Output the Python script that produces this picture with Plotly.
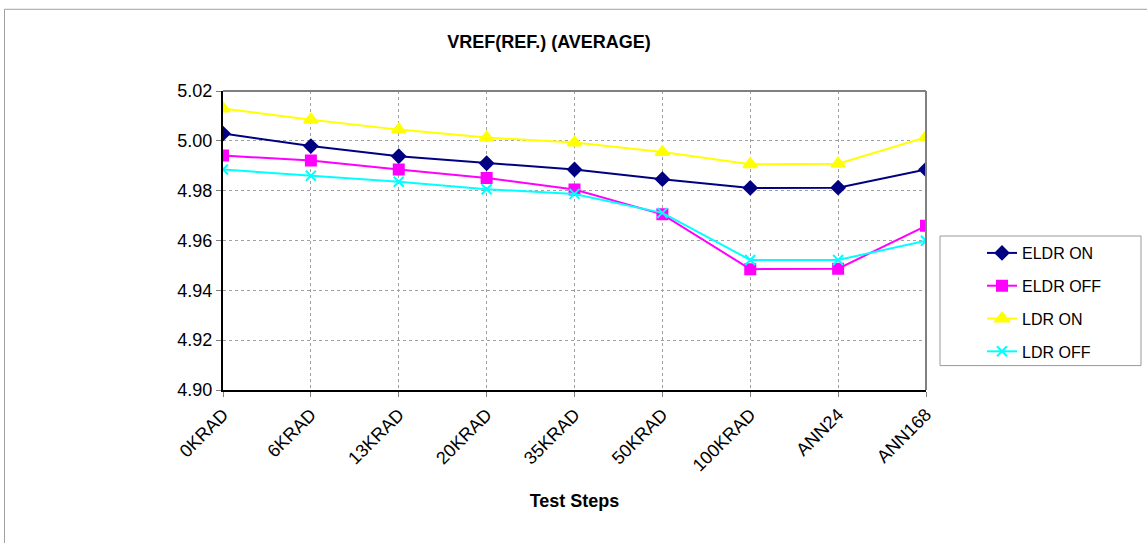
import plotly.graph_objects as go

categories = ["0KRAD", "6KRAD", "13KRAD", "20KRAD", "35KRAD", "50KRAD", "100KRAD", "ANN24", "ANN168"]
eldr_on = [5.0029, 4.9979, 4.9938, 4.9910, 4.9885, 4.9846, 4.9811, 4.9812, 4.9885]
eldr_off = [4.9941, 4.9921, 4.9885, 4.9851, 4.9805, 4.9705, 4.9485, 4.9487, 4.9659]
ldr_on = [5.0130, 5.0085, 5.0045, 5.0013, 4.9993, 4.9955, 4.9906, 4.9908, 5.0015]
ldr_off = [4.9885, 4.9860, 4.9836, 4.9806, 4.9787, 4.9711, 4.9522, 4.9522, 4.9599]
y_ticks = [4.90, 4.92, 4.94, 4.96, 4.98, 5.00, 5.02]

series = [
    ("ELDR ON", eldr_on, "#000080", "diamond", 10),
    ("ELDR OFF", eldr_off, "#FF00FF", "square", 10),
    ("LDR ON", ldr_on, "#FFFF00", "triangle-up", 12),
    ("LDR OFF", ldr_off, "#00FFFF", "x-thin-open", 10),
]

fig = go.Figure()
for name, vals, color, sym, size in series:
    fig.add_trace(go.Scatter(
        x=categories, y=vals, name=name, mode="lines+markers",
        legendgroup=name,
        line=dict(color=color, width=2),
        marker=dict(symbol=sym, size=size, color=color,
                    line=dict(color=color, width=2)),
    ))

W, H = 1147, 543
L, R, T, B = 223, 926, 90.5, 390.5
pw, ph = R - L, B - T
def px(x): return (x - L) / pw
def py(y): return (B - y) / ph

fig.update_layout(
    width=W, height=H,
    margin=dict(l=L, r=W - R, t=T, b=H - B, pad=0, autoexpand=False),
    paper_bgcolor="white", plot_bgcolor="white",
    font=dict(family="Arial, Liberation Sans, sans-serif", color="black"),
    title=dict(text="<b>VREF(REF.) (AVERAGE)</b>", x=(549) / W, xanchor="center",
               y=1 - 42 / H, yanchor="middle", font=dict(size=18)),
    showlegend=True,
    legend=dict(x=px(982), y=py(236), xanchor="left", yanchor="top",
                borderwidth=0, bgcolor="rgba(0,0,0,0)",
                font=dict(size=16), tracegroupgap=9),
    xaxis=dict(
        type="category", range=[0, len(categories) - 1],
        tickangle=-45, tickfont=dict(size=18),
        showgrid=True, gridcolor="#A0A0A0", griddash="dot", gridwidth=1,
        showline=True, linecolor="black", linewidth=2,
        ticks="outside", ticklen=5, tickcolor="#808080",
        title=dict(text="<b>Test Steps</b>", font=dict(size=18), standoff=20),
        zeroline=False,
    ),
    yaxis=dict(
        range=[4.90, 5.02], tickvals=y_ticks, tickformat=".2f",
        tickfont=dict(size=18),
        showgrid=True, gridcolor="#A0A0A0", griddash="dot", gridwidth=1,
        showline=True, linecolor="black", linewidth=2,
        ticks="outside", ticklen=5, tickcolor="#808080",
        zeroline=False,
    ),
    shapes=[
        dict(type="line", xref="paper", yref="paper", x0=0, x1=1, y0=1, y1=1,
             line=dict(color="#808080", width=2)),
        dict(type="line", xref="paper", yref="paper", x0=1, x1=1, y0=0, y1=1,
             line=dict(color="#808080", width=2)),
        dict(type="rect", xref="paper", yref="paper", x0=px(940), x1=px(1141),
             y0=py(366), y1=py(236), line=dict(color="#999999", width=1)),
        dict(type="line", xref="paper", yref="paper", x0=px(4.5), x1=px(W + 5),
             y0=py(8.5), y1=py(8.5), line=dict(color="#A0A0A0", width=1)),
        dict(type="line", xref="paper", yref="paper", x0=px(4.5), x1=px(4.5),
             y0=py(8.5), y1=py(H + 5), line=dict(color="#A0A0A0", width=1)),
    ],
)

fig.write_html("out.html", config={"displayModeBar": False},
               post_script="document.body.style.margin='0px';")
